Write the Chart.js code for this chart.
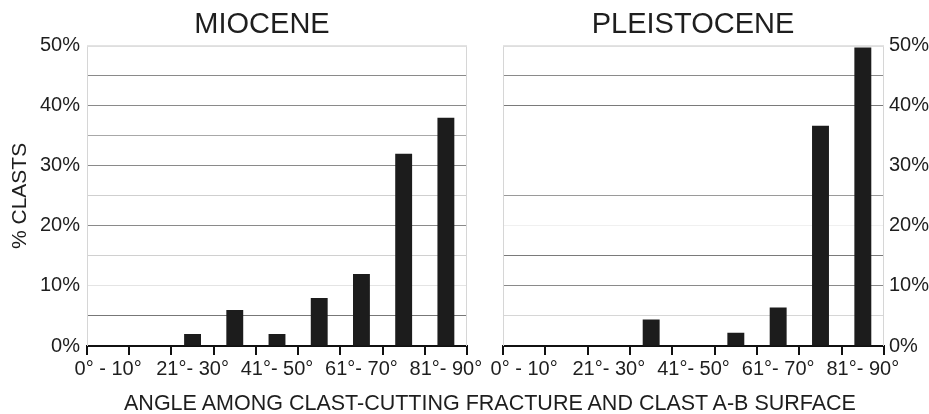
<!DOCTYPE html>
<html><head><meta charset="utf-8">
<script src="https://cdn.jsdelivr.net/npm/chart.js@4"></script>
<style>
html,body{margin:0;padding:0;background:#fff;width:929px;height:414px;overflow:hidden;font-family:"Liberation Sans",Arial,sans-serif}
#c1{position:absolute;left:0;top:0}
#c2{position:absolute;left:457px;top:0}
#xt{position:absolute;left:0;width:980px;top:393px;text-align:center;font-size:21.5px;line-height:1;color:#1e1e1e;white-space:nowrap}
</style></head><body>
<canvas id="c1" width="524" height="414"></canvas>
<canvas id="c2" width="472" height="414"></canvas>
<div id="xt">ANGLE AMONG CLAST-CUTTING FRACTURE AND CLAST A-B SURFACE</div>
<script>
// ---- data ----
const categories = ["0° - 10°","11°- 20°","21°- 30°","31°- 40°","41°- 50°","51°- 60°","61°- 70°","71°- 80°","81°- 90°"];
const mioceneValues = [0, 0, 2, 6, 2, 8, 12, 32, 38];
const pleistoceneValues = [0, 0, 0, 4.4, 0, 2.2, 6.4, 36.7, 49.7];
const yMin = 0, yMax = 50, yGridStep = 5, yLabelStep = 10;
const panelTitles = ["MIOCENE", "PLEISTOCENE"];
const yAxisTitle = "% CLASTS";

// ---- styles ----
const FONT = '"Liberation Sans", Arial, sans-serif';
const TEXT = '#1e1e1e';
const gridColorsLeft  = {0:'#111',5:'#777',10:'#e4e4e4',15:'#d0d0d0',20:'#8a8a8a',25:'#cfcfcf',30:'#8a8a8a',35:'#a8a8a8',40:'#8a8a8a',45:'#8a8a8a',50:'#e6e6e6'};
const gridColorsRight = {0:'#111',5:'#d6d6d6',10:'#8a8a8a',15:'#7a7a7a',20:'#f0f0f0',25:'#9a9a9a',30:'rgba(0,0,0,0)',35:'rgba(0,0,0,0)',40:'#7a7a7a',45:'#8a8a8a',50:'#e6e6e6'};

Chart.defaults.font.family = FONT;
Chart.defaults.color = TEXT;

const framePlugin = {
  id: 'frame',
  beforeDatasetsDraw(chart) {
    const {ctx, chartArea: a} = chart;
    ctx.save();
    ctx.strokeStyle = '#d6d6d6';
    ctx.lineWidth = 1;
    ctx.beginPath();
    ctx.moveTo(a.left + 0.5, a.bottom);
    ctx.lineTo(a.left + 0.5, a.top + 0.5);
    ctx.lineTo(a.right - 0.5, a.top + 0.5);
    ctx.lineTo(a.right - 0.5, a.bottom);
    ctx.stroke();
    ctx.restore();
  }
};

function spacer(pos, width) {
  return {type: 'linear', position: pos, display: true,
    grid: {display: false}, border: {display: false}, ticks: {display: false},
    afterFit(s) { s.width = width; }};
}

function xScale() {
  return {
    type: 'category', offset: true,
    grid: {offset: true, drawOnChartArea: false, drawTicks: true, tickLength: 9, color: '#111', lineWidth: 2},
    border: {display: true, color: '#111', width: 2},
    ticks: {autoSkip: false, maxRotation: 0, minRotation: 0, padding: 2, color: TEXT,
      font: {size: 20},
      callback(v, i) { return i % 2 === 0 ? this.getLabelForValue(v) : ''; }},
    afterFit(s) { s.height = 68; }
  };
}

function yScale(pos, colors, withTitle, width, pad) {
  return {
    type: 'linear', position: pos, min: yMin, max: yMax,
    ticks: {stepSize: yGridStep, padding: pad, color: TEXT, font: {size: 20},
      callback(v) { return v % yLabelStep === 0 ? v + '%' : ''; }},
    grid: {drawTicks: false, lineWidth: 1, color: ctx => colors[ctx.tick.value] || '#999'},
    border: {display: false},
    title: {display: withTitle, text: yAxisTitle, color: TEXT, font: {size: 21}, padding: {top: 8, bottom: 0}},
    afterFit(s) { s.width = width; }
  };
}

function makeChart(id, title, values, left) {
  const scales = {x: xScale()};
  if (left) {
    scales.y = yScale('left', gridColorsLeft, true, 87, 7);
    scales.yR = spacer('right', 57);
  } else {
    scales.yL = spacer('left', 46);
    scales.y = yScale('right', gridColorsRight, false, 45, 5);
  }
  return new Chart(document.getElementById(id), {
    type: 'bar',
    data: {labels: categories, datasets: [{data: values, yAxisID: 'y',
      backgroundColor: '#1c1c1c', borderWidth: 0, barPercentage: 0.4, categoryPercentage: 1}]},
    options: {
      responsive: false, animation: false, devicePixelRatio: 1,
      layout: {padding: 0},
      plugins: {
        legend: {display: false}, tooltip: {enabled: false},
        title: {display: true, text: title, color: TEXT, font: {size: 29, weight: 'normal'}, padding: {top: 8, bottom: 3}}
      },
      scales
    },
    plugins: [framePlugin]
  });
}

makeChart('c1', panelTitles[0], mioceneValues, true);
makeChart('c2', panelTitles[1], pleistoceneValues, false);
</script>
</body></html>
